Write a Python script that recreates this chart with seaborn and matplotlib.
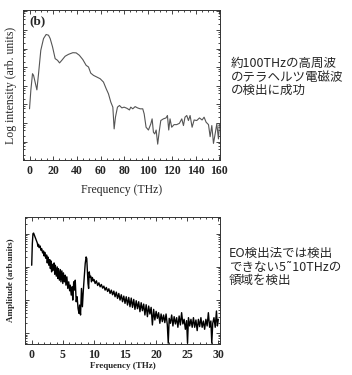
import numpy as np
import pandas as pd
import matplotlib
matplotlib.use("Agg")
import matplotlib.pyplot as plt
import seaborn as sns
from matplotlib.ticker import MultipleLocator, LogLocator, NullFormatter

# top panel: log intensity spectrum (log10 values)
top_freq = [0, 1.1, 2.5, 3.4, 6.2, 7.6, 9.5, 11.8, 14, 16, 17.4, 19.4, 21.6, 23.6, 25.3,
            27.2, 30, 32.8, 36.5, 39.3, 42, 44.9, 47.7, 49.7, 51.6, 53.9, 56.7, 59.5, 62.3,
            64.6, 66.5, 68.5, 70.2, 71.3, 72.4, 74.1, 75.8, 77.8, 79.7, 82, 84.2, 85.3, 87,
            89, 91, 93.2, 95.4, 96.6, 98.2, 100.2, 102.2, 103.3, 104.4, 105.5, 106.7, 108,
            109.2, 110.6, 112.8, 115, 116.2, 117.3, 118.4, 119.8, 121.8, 124, 126.3, 128.3,
            129.7, 131, 132.5, 133.9, 135.3, 137, 138.7, 140.9, 143.2, 145.4, 147.1, 148.8,
            150.8, 152.2, 153.6, 155, 156.4, 157.8, 159.2, 160]
top_log = [2.76, 3.75, 4.65, 4.56, 3.78, 4.65, 5.91, 6.54, 6.76, 6.72, 6.54, 6.09, 5.46, 5.37,
           5.23, 5.37, 5.59, 5.69, 5.78, 5.77, 5.64, 5.41, 5.10, 5.01, 4.68, 4.56, 4.47, 4.38,
           4.20, 3.84, 3.57, 3.12, 2.85, 1.68, 2.31, 2.85, 2.94, 2.81, 2.85, 2.79, 2.70, 2.85,
           2.76, 2.88, 2.81, 2.76, 2.76, 2.49, 1.77, 1.62, 1.95, 2.22, 1.50, 1.41, 1.62, 0.86,
           1.50, 2.13, 2.22, 2.27, 2.40, 1.62, 2.22, 1.77, 1.91, 1.91, 1.98, 2.22, 1.86, 2.31,
           2.40, 2.13, 2.40, 1.77, 2.16, 2.13, 2.27, 2.16, 2.31, 2.04, 1.91, 1.26, 1.86, 0.90,
           1.41, 1.95, 1.14, 1.95]

# bottom panel: EO amplitude spectrum (log10 values)
bot_freq = [0.0, 0.1, 0.2, 0.3, 0.5, 0.7, 0.9, 1.0, 1.1, 1.2, 1.35, 1.5, 1.6, 1.75, 1.9, 2.0,
            2.1, 2.25, 2.4, 2.5, 2.6, 2.75, 2.9, 3.0, 3.1, 3.2, 3.3, 3.45, 3.6, 3.7, 3.8, 3.95,
            4.1, 4.2, 4.3, 4.45, 4.6, 4.7, 4.85, 5.0, 5.1, 5.25, 5.4, 5.5, 5.65, 5.8, 5.95,
            6.1, 6.2, 6.35, 6.5, 6.6, 6.75, 6.9, 7.0, 7.15, 7.3, 7.45, 7.6, 7.7, 7.85, 8.0,
            8.15, 8.3, 8.45, 8.6, 8.75, 8.85, 8.95, 9.05, 9.15, 9.25, 9.35, 9.5, 9.6, 9.75,
            9.9, 10.0, 10.2, 10.4, 10.6, 10.8, 11.0, 11.2, 11.4, 11.6, 11.8, 12.0, 12.2, 12.4,
            12.6, 12.8, 13.0, 13.2, 13.4, 13.6, 13.8, 14.0, 14.2, 14.4, 14.6, 14.8, 15.0,
            15.2, 15.4, 15.6, 15.8, 16.0, 16.2, 16.4, 16.6, 16.8, 17.0, 17.2, 17.4, 17.6,
            17.8, 18.0, 18.2, 18.4, 18.6, 18.8, 19.0, 19.2, 19.4, 19.6, 19.8, 20.0, 20.2,
            20.4, 20.6, 20.8, 21.0, 21.2, 21.4, 21.6, 21.8, 21.95, 22.1, 22.3, 22.5, 22.7,
            22.9, 23.1, 23.3, 23.5, 23.7, 23.9, 24.1, 24.3, 24.5, 24.7, 24.9, 25.05, 25.2,
            25.4, 25.6, 25.8, 26.0, 26.2, 26.4, 26.6, 26.8, 27.0, 27.2, 27.4, 27.6, 27.8,
            28.0, 28.2, 28.4, 28.6, 28.8, 28.95, 29.1, 29.3, 29.5, 29.7, 29.85, 30.0]
bot_log = [3.05, 3.7, 4.0, 4.02, 3.92, 3.82, 3.72, 3.62, 3.68, 3.58, 3.63, 3.5, 3.55, 3.42,
           3.48, 3.33, 3.44, 3.26, 3.36, 3.12, 3.3, 3.05, 3.22, 2.95, 3.18, 2.85, 3.08, 2.9,
           3.12, 2.78, 3.05, 2.72, 3.0, 2.65, 2.95, 2.6, 2.92, 2.55, 2.88, 2.5, 2.82, 2.55,
           2.75, 2.45, 2.7, 2.35, 2.55, 2.28, 2.45, 2.15, 2.4, 2.0, 2.55, 2.3, 2.6, 1.95,
           2.1, 1.75, 1.6, 1.85, 1.55, 2.35, 1.8, 2.3, 2.7, 3.1, 3.3, 3.25, 2.9, 2.5, 2.35,
           2.85, 2.7, 2.72, 2.55, 2.68, 2.58, 2.62, 2.5, 2.58, 2.44, 2.52, 2.4, 2.47, 2.36,
           2.42, 2.3, 2.38, 2.26, 2.34, 2.2, 2.3, 2.16, 2.27, 2.1, 2.24, 2.05, 2.2, 2.0,
           2.16, 1.95, 2.12, 1.9, 2.1, 1.85, 2.08, 1.8, 2.06, 1.78, 2.02, 1.72, 1.98, 1.74,
           1.95, 1.65, 1.92, 1.68, 1.88, 1.55, 1.86, 1.5, 1.82, 1.58, 1.78, 1.25, 1.72, 1.4,
           1.66, 1.45, 1.62, 1.3, 1.58, 1.35, 1.55, 1.32, 1.58, 1.25, 0.7, 1.45, 1.3, 1.55,
           1.22, 1.5, 1.28, 1.47, 1.18, 1.52, 1.25, 1.62, 1.28, 1.42, 1.12, 1.38, 0.7, 1.47,
           1.22, 1.42, 1.18, 1.47, 1.18, 1.4, 1.08, 1.42, 1.2, 1.47, 1.18, 1.37, 1.12, 1.42,
           1.22, 1.62, 1.18, 1.37, 0.7, 1.3, 1.47, 1.18, 1.67, 1.22, 1.42]

note_top = "約100THzの高周波\nのテラヘルツ電磁波\nの検出に成功"
note_bot = "EO検出法では検出\nできない5˜10THzの\n領域を検出"

top = pd.DataFrame({"freq": top_freq, "intensity": np.power(10.0, top_log)})
bot = pd.DataFrame({"freq": bot_freq, "amp": np.power(10.0, bot_log)})

sns.set_style("ticks")
plt.rcParams["font.family"] = ["Liberation Serif", "DejaVu Serif"]

fig = plt.figure(figsize=(3.52, 3.75), dpi=100)
ax1 = fig.add_axes([0.065, 0.573, 0.56, 0.40])
ax2 = fig.add_axes([0.071, 0.083, 0.554, 0.338])

sns.lineplot(data=top, x="freq", y="intensity", ax=ax1, color="#555555", linewidth=0.8)
sns.lineplot(data=bot, x="freq", y="amp", ax=ax2, color="black", linewidth=1.0)

for ax in (ax1, ax2):
    ax.set_yscale("log")
    ax.yaxis.set_major_formatter(NullFormatter())
    ax.yaxis.set_minor_formatter(NullFormatter())
    ax.tick_params(which="both", direction="in", top=True, right=True, width=0.6)
    ax.tick_params(which="major", length=3, labelsize=8)
    ax.tick_params(which="minor", length=1.5)
    for s in ax.spines.values():
        s.set_linewidth(0.7)
        s.set_color("#333333")

ax1.set_xlim(-5.6, 160.5)
ax1.set_ylim(1, 10 ** 8.07)
ax1.xaxis.set_minor_locator(MultipleLocator(5))
ax1.yaxis.set_major_locator(LogLocator(base=10, numticks=12))
ax1.yaxis.set_minor_locator(LogLocator(base=10, subs=(2, 4, 6, 8), numticks=12))
ax1.set_xticks(range(0, 161, 20))
ax1.set_xticklabels([str(v) for v in range(0, 161, 20)], fontweight="bold", fontsize=8.5)
ax1.set_xlabel("Frequency (THz)", fontsize=8.5, labelpad=5)
ax1.set_ylabel("Log intensity (arb. units)", fontsize=8.5, labelpad=1)
ax1.text(0.035, 0.965, "(b)", transform=ax1.transAxes, fontsize=9.5, fontweight="bold",
         va="top", ha="left")

ax2.set_xlim(-1.08, 30.27)
ax2.set_ylim(10 ** 0.68, 10 ** 4.5)
ax2.set_xticks(range(0, 31, 5))
ax2.set_xticklabels([str(v) for v in range(0, 31, 5)], fontweight="bold", fontsize=8.5)
ax2.xaxis.set_minor_locator(MultipleLocator(1))
ax2.yaxis.set_major_locator(LogLocator(base=10, numticks=12))
ax2.yaxis.set_minor_locator(LogLocator(base=10, subs=np.arange(2, 10), numticks=12))
ax2.set_xlabel("Frequency (THz)", fontsize=6.5, fontweight="bold", labelpad=1)
ax2.set_ylabel("Amplitude (arb.units)", fontsize=6.5, fontweight="bold", labelpad=4)

jp = ["Noto Sans CJK JP", "DejaVu Sans"]
fig.text(231 / 352, 1 - 57 / 375, note_top, family=jp, fontsize=9.0, va="top",
         ha="left", linespacing=1.05)
fig.text(229 / 352, 1 - 247 / 375, note_bot, family=jp, fontsize=9.0, va="top",
         ha="left", linespacing=1.05)

fig.savefig("out.png", dpi=100)
